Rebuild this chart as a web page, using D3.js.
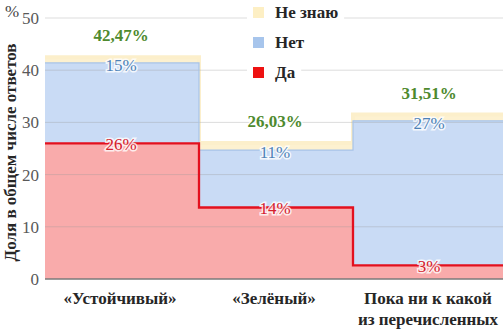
<!DOCTYPE html>
<html><head><meta charset="utf-8">
<script src="https://cdn.jsdelivr.net/npm/d3@7"></script>
<style>body{margin:0;background:#fff}svg{display:block}</style>
</head><body>
<svg id="c" width="503" height="333"></svg>
<script>
const categories = ["«Устойчивый»", "«Зелёный»", "Пока ни к какой|из перечисленных"];
const yesVals = [26.0, 13.7, 2.6];
const noVals = [15.4, 11.0, 27.7];
const dontKnowVals = [1.07, 1.33, 1.21];
const totalLabels = ["42,47%", "26,03%", "31,51%"];
const noLabels = ["15%", "11%", "27%"];
const yesLabels = ["26%", "14%", "3%"];
const yTicks = [0, 10, 20, 30, 40, 50];
const seriesNames = ["Не знаю", "Нет", "Да"];

const FONT = '"Liberation Serif", "Times New Roman", serif';
const svg = d3.select("#c");
const L = 45, R = 507, T = 18, B = 279;
const x = d3.scaleBand().domain(categories).range([L, R]).padding(0);
const y = d3.scaleLinear().domain([0, 50]).range([B, T]);
const FS = 17;

const rows = categories.map((c, i) => ({c, yes: yesVals[i], no: noVals[i], dk: dontKnowVals[i]}));
const stack = d3.stack().keys(["yes", "no", "dk"])(rows);

function stepPts(layer) {
  const pts = layer.map((d, i) => ({x: x(categories[i]), y0: d[0], y1: d[1]}));
  const last = layer[layer.length - 1];
  pts.push({x: x(categories[categories.length - 1]) + x.bandwidth(), y0: last[0], y1: last[1]});
  return pts;
}
const area = d3.area().curve(d3.curveStepAfter).x(d => d.x).y0(d => y(d.y0)).y1(d => y(d.y1));
const line = d3.line().curve(d3.curveStepAfter).x(d => d.x).y(d => y(d.y1));

// yellow (Не знаю)
svg.append("path").datum(stepPts(stack[2])).attr("d", area).attr("fill", "#fdf1d0");
svg.append("path").datum(stepPts(stack[2])).attr("d", line).attr("fill", "none")
  .attr("stroke", "#fcefcb").attr("stroke-width", 4);
// blue (Нет)
svg.append("path").datum(stepPts(stack[1])).attr("d", area).attr("fill", "#c9dbf5");
// red (Да)
svg.append("path").datum(stepPts(stack[0])).attr("d", area).attr("fill", "#f9abab");

svg.append("g").selectAll("line").data(yTicks.filter(t => t > 0)).join("line")
  .attr("x1", L).attr("x2", R).attr("y1", d => y(d)).attr("y2", d => y(d))
  .attr("stroke", "#9a9a9a").attr("stroke-opacity", 0.35).attr("stroke-width", 1);
svg.append("path").datum(stepPts(stack[1])).attr("d", line).attr("fill", "none")
  .attr("stroke", "#a8c3e8").attr("stroke-width", 1.2);
svg.append("path").datum(stepPts(stack[0])).attr("d", line).attr("fill", "none")
  .attr("stroke", "#e3101e").attr("stroke-width", 2.3);
svg.append("line").attr("x1", L).attr("x2", R).attr("y1", y(0)).attr("y2", y(0))
  .attr("stroke", "#7a7a7a").attr("stroke-width", 1.5);

const ya = svg.append("g").attr("transform", `translate(${L},0)`)
  .call(d3.axisLeft(y).tickValues(yTicks).tickSize(0).tickPadding(6));
ya.select(".domain").remove();
ya.selectAll("text").style("font-family", FONT).style("font-size", FS + "px").attr("fill", "#595959");
svg.append("text").attr("x", 12).attr("y", 17).style("font-family", FONT).style("font-size", FS + "px")
  .attr("fill", "#444").attr("text-anchor", "middle").text("%");
svg.append("text").attr("transform", `translate(16,${(T + B) / 2 + 4}) rotate(-90)`)
  .attr("text-anchor", "middle").style("font-family", FONT).style("font-size", FS + "px")
  .style("font-weight", "bold").attr("fill", "#262626").text("Доля в общем числе ответов");

const xl = svg.append("g");
categories.forEach(c => {
  const parts = c.split("|");
  parts.forEach((p, j) => {
    xl.append("text").attr("x", x(c) + x.bandwidth() / 2 - 2).attr("y", 304 + j * 21)
      .attr("text-anchor", "middle").style("font-family", FONT).style("font-size", FS + "px")
      .style("font-weight", "bold").attr("fill", "#262626").text(p);
  });
});

function lbl(txt, cx, cy, color, bold) {
  svg.append("text").attr("x", cx).attr("y", cy).attr("text-anchor", "middle")
    .style("font-family", FONT).style("font-size", FS + "px").style("font-weight", bold ? "bold" : "normal")
    .attr("fill", color).attr("stroke", "#fff").attr("stroke-width", 3).attr("stroke-opacity", 0.8)
    .attr("paint-order", "stroke").text(txt);
}
categories.forEach((c, i) => {
  const cx = x(c) + x.bandwidth() / 2 - 1;
  const tot = yesVals[i] + noVals[i] + dontKnowVals[i];
  lbl(totalLabels[i], cx, y(tot) - 16, "#4e8a2e", true);
  lbl(noLabels[i], cx, y(yesVals[i] + noVals[i]) + 8, "#4d82b8", false);
  lbl(yesLabels[i], cx, y(yesVals[i]) + 7, "#d4202c", false);
});

const lcol = ["#fdefc4", "#a7c5ec", "#ee1111"];
seriesNames.forEach((n, i) => {
  const yy = 12 + i * 30;
  const g = svg.append("g");
  const bg = g.append("rect").attr("x", 247).attr("y", yy - 14).attr("height", 28).attr("fill", "#fff");
  g.append("rect").attr("x", 253).attr("y", yy - 5).attr("width", 11).attr("height", 11).attr("fill", lcol[i]);
  const t = g.append("text").attr("x", 275).attr("y", yy + 6).style("font-family", FONT).style("font-size", FS + "px")
    .style("font-weight", "bold").attr("fill", "#262626").text(n);
  const w = t.node().getComputedTextLength();
  bg.attr("width", 275 + w + 6 - 247);
});
</script>
</body></html>
